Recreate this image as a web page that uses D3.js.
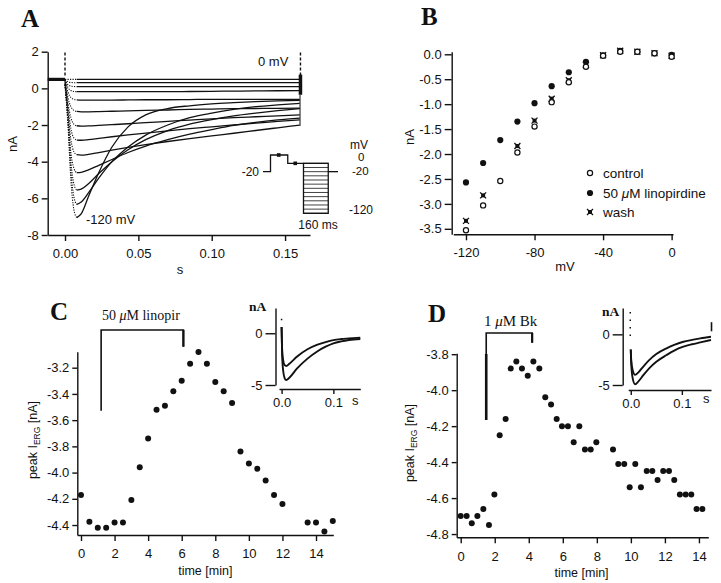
<!DOCTYPE html>
<html><head><meta charset="utf-8">
<script src="https://cdn.jsdelivr.net/npm/d3@7"></script>
<style>
body{margin:0;background:#fff}
svg{display:block;background:#fff}
</style></head><body>
<svg id="fig" width="721" height="583"></svg>
<script>
// ---------- Panel A data ----------
const aTimeTicks = [0, 0.05, 0.10, 0.15];
const aCurrentTicks = [2, 0, -2, -4, -6, -8];
const aHoldCurrent = 0.49;
const aTestVoltages = [0, -10, -20, -30, -40, -50, -60, -70, -80, -90, -100, -110, -120];
const aTraceTimes = [0,0.002,0.004,0.006,0.008,0.011,0.016,0.023,0.032,0.043,0.055,0.07,0.085,0.1,0.115,0.13,0.145,0.16];
const aTraces = [
  [0.49,0.49,0.49,0.49,0.49,0.49,0.49,0.49,0.49,0.49,0.49,0.49,0.49,0.49,0.49,0.49,0.49,0.49],
  [0.49,0.36,0.32,0.31,0.31,0.31,0.31,0.31,0.31,0.31,0.31,0.31,0.31,0.31,0.31,0.31,0.31,0.31],
  [0.49,0.2,0.12,0.1,0.09,0.09,0.09,0.09,0.09,0.09,0.09,0.09,0.09,0.09,0.09,0.09,0.09,0.09],
  [0.49,0.05,-0.12,-0.17,-0.18,-0.18,-0.18,-0.18,-0.18,-0.18,-0.18,-0.18,-0.17,-0.16,-0.15,-0.14,-0.13,-0.12],
  [0.45,-0.2,-0.5,-0.6,-0.63,-0.64,-0.64,-0.64,-0.64,-0.63,-0.62,-0.62,-0.61,-0.6,-0.6,-0.6,-0.6,-0.6],
  [0.4,-0.5,-1.0,-1.2,-1.26,-1.28,-1.28,-1.27,-1.25,-1.23,-1.2,-1.18,-1.15,-1.13,-1.11,-1.1,-1.09,-1.08],
  [0.35,-0.8,-1.6,-1.95,-2.04,-2.06,-2.05,-2.02,-1.98,-1.93,-1.87,-1.8,-1.73,-1.66,-1.6,-1.55,-1.5,-1.45],
  [0.3,-1.0,-2.2,-2.7,-2.82,-2.83,-2.8,-2.73,-2.64,-2.54,-2.44,-2.32,-2.2,-2.1,-2.0,-1.9,-1.8,-1.72],
  [0.25,-1.3,-2.8,-3.45,-3.62,-3.64,-3.6,-3.5,-3.37,-3.22,-3.07,-2.9,-2.74,-2.59,-2.45,-2.3,-2.15,-2.0],
  [0.2,-1.5,-3.5,-4.35,-4.6,-4.58,-4.45,-4.2,-3.88,-3.5,-3.15,-2.8,-2.5,-2.25,-2.02,-1.85,-1.72,-1.62],
  [0.2,-1.7,-4.0,-5.2,-5.55,-5.5,-5.2,-4.65,-4.0,-3.35,-2.8,-2.3,-1.95,-1.7,-1.5,-1.35,-1.22,-1.1],
  [0.2,-1.8,-4.5,-5.9,-6.33,-6.2,-5.7,-4.9,-4.0,-3.2,-2.55,-2.0,-1.6,-1.35,-1.15,-1.0,-0.9,-0.82],
  [0.2,-2.0,-5.0,-6.6,-7.05,-6.85,-5.9,-4.6,-3.2,-2.1,-1.45,-1.1,-0.95,-0.85,-0.78,-0.72,-0.68,-0.65]
];
// voltage protocol (inset of A)
const protoTimes = [0, 10, 33, 54];
const protoLevels = [-20, 20, 0, 0];
const protoStepStart = 54, protoStepEnd = 87, protoEnd = 100;
const protoMarks = [[21, 20], [43, 0]];

// ---------- Panel B data ----------
const bVoltages = [-120,-110,-100,-90,-80,-70,-60,-50,-40,-30,-20,-10,0];
const bControl  = [-3.53,-3.03,-2.54,-1.97,-1.45,-0.96,-0.56,-0.25,-0.03,0.05,0.05,0.02,-0.05];
const bLinop    = [-2.57,-2.18,-1.72,-1.35,-0.98,-0.64,-0.36,-0.15,-0.02,0.07,0.05,0.02,-0.01];
const bWash     = [-3.34,-2.83,null,-1.84,-1.33,-0.89,-0.52,-0.21,-0.02,0.07,0.05,0.02,-0.03];
const bXTicks = [-120, -80, -40, 0];
const bYTicks = [0, -0.5, -1, -1.5, -2, -2.5, -3, -3.5];
const bLegend = ["control", "50 \u03BCM linopirdine", "wash"];

// ---------- Panel C data ----------
const cTimes = [0,0.5,1,1.5,2,2.5,3,3.5,4,4.5,5,5.5,6,6.5,7,7.5,8,8.5,9,9.5,10,10.5,11,11.5,12,13.5,14,14.5,15];
const cPeak  = [-4.17,-4.375,-4.42,-4.42,-4.38,-4.38,-4.21,-3.96,-3.74,-3.52,-3.49,-3.38,-3.30,-3.17,-3.08,-3.17,-3.31,-3.38,-3.47,-3.84,-3.93,-3.97,-4.06,-4.17,-4.24,-4.38,-4.38,-4.45,-4.37];
const cDrug = [1.2, 6.1];
const cYTicks = [-3.2,-3.4,-3.6,-3.8,-4.0,-4.2,-4.4];
const cInsetTimes   = [0,0.001,0.003,0.006,0.009,0.015,0.03,0.05,0.068,0.085,0.1,0.115,0.13,0.152];
const cInsetLinop   = [0.6,-1.5,-2.6,-3.1,-3.16,-2.95,-2.25,-1.55,-1.13,-0.85,-0.66,-0.56,-0.5,-0.42];
const cInsetControl = [0.6,-2.0,-3.6,-4.35,-4.52,-4.3,-3.4,-2.45,-1.78,-1.3,-0.97,-0.78,-0.65,-0.55];

// ---------- Panel D data ----------
const dTimes = [0,0.35,0.65,0.98,1.33,1.66,1.98,2.29,2.64,2.94,3.27,3.6,3.94,4.27,4.62,4.97,5.31,5.64,5.95,6.3,6.64,6.97,7.3,7.64,7.97,8.95,9.26,9.61,9.93,10.26,10.59,10.93,11.26,11.57,11.9,12.24,12.55,12.88,13.22,13.55,13.86,14.2];
const dPeak  = [-4.70,-4.70,-4.74,-4.70,-4.66,-4.75,-4.58,-4.25,-4.16,-3.88,-3.84,-3.88,-3.92,-3.84,-3.88,-4.04,-4.08,-4.16,-4.20,-4.20,-4.29,-4.20,-4.33,-4.33,-4.29,-4.33,-4.41,-4.41,-4.54,-4.41,-4.54,-4.45,-4.45,-4.50,-4.45,-4.45,-4.50,-4.58,-4.58,-4.58,-4.66,-4.66];
const dDrug = [1.5, 4.2];
const dYTicks = [-3.8,-4.0,-4.2,-4.4,-4.6,-4.8];
const timeTicks = [0,2,4,6,8,10,12,14];
const dInsetTimes   = [0,0.001,0.004,0.0085,0.015,0.025,0.036,0.05,0.07,0.085,0.103,0.12,0.136,0.157];
const dInsetBk      = [-1.5,-2.6,-3.6,-4.0,-3.75,-3.15,-2.55,-1.95,-1.38,-1.05,-0.73,-0.55,-0.4,-0.23];
const dInsetControl = [-1.5,-3.0,-4.4,-4.93,-4.65,-4.0,-3.35,-2.7,-2.04,-1.6,-1.22,-0.98,-0.8,-0.56];
const insetTimeTicks = [0, 0.1];
const insetCurrentTicks = [0, -5];

// ---------- drawing ----------
const svg = d3.select("#fig");
const INK = "#111";
const SANS = "'Liberation Sans', Arial, sans-serif";
const SERIF = "'Liberation Serif', 'Times New Roman', serif";

function styleAxis(g, fs) {
  g.selectAll("path,line").attr("stroke", INK).attr("stroke-width", 1.4);
  g.selectAll("text").style("font-size", (fs || 13) + "px").style("fill", INK).style("font-family", SANS);
}
function addText(x, y, str, opts) {
  opts = opts || {};
  const t = svg.append("text").attr("x", x).attr("y", y)
    .style("font-size", (opts.size || 13) + "px")
    .style("font-family", opts.family || SANS)
    .style("font-weight", opts.weight || "normal")
    .attr("text-anchor", opts.anchor || "start")
    .style("fill", INK).text(str);
  if (opts.rotate) t.attr("transform", `rotate(-90,${x},${y})`);
  return t;
}
const fmt = n => d => d.toFixed(n);

// ===== Panel A =====
const xA = d3.scaleLinear().domain([-0.0118, 0.167]).range([47.7, 310]);
const yA = d3.scaleLinear().domain([-8, 2]).range([235, 51.7]);
svg.append("g").attr("transform", "translate(0,235)")
  .call(d3.axisBottom(xA).tickValues(aTimeTicks).tickFormat(fmt(2)).tickSize(6).tickSizeOuter(0).tickPadding(8))
  .call(g => styleAxis(g));
svg.append("g").attr("transform", "translate(47.7,0)")
  .call(d3.axisLeft(yA).tickValues(aCurrentTicks).tickFormat(d => String(d)).tickSize(6).tickSizeOuter(0).tickPadding(3))
  .call(g => styleAxis(g));

// holding segment
svg.append("line").attr("x1", xA(-0.0118)).attr("x2", xA(0)).attr("y1", yA(aHoldCurrent)).attr("y2", yA(aHoldCurrent))
  .attr("stroke", INK).attr("stroke-width", 3.2);
// capacitive artefacts
svg.append("line").attr("x1", xA(0)).attr("x2", xA(0)).attr("y1", yA(1.95)).attr("y2", yA(0.6))
  .attr("stroke", INK).attr("stroke-width", 1.4).attr("stroke-dasharray", "3,2");
svg.append("line").attr("x1", xA(0.1605)).attr("x2", xA(0.1605)).attr("y1", yA(1.95)).attr("y2", yA(0.7))
  .attr("stroke", INK).attr("stroke-width", 1.4).attr("stroke-dasharray", "3,2");
svg.append("line").attr("x1", xA(0.1605)).attr("x2", xA(0.1605)).attr("y1", yA(0.75)).attr("y2", yA(-0.35))
  .attr("stroke", INK).attr("stroke-width", 3.5);
svg.append("line").attr("x1", xA(0.1602)).attr("x2", xA(0.1602)).attr("y1", yA(-0.35)).attr("y2", yA(-2.05))
  .attr("stroke", INK).attr("stroke-width", 1);

const lineA = d3.line().x(d => xA(d[0])).y(d => yA(d[1])).curve(d3.curveMonotoneX);
aTraces.forEach(tr => {
  const pts = aTraceTimes.map((t, i) => [t, tr[i]]);
  svg.append("path").attr("d", lineA(pts.slice(0, 5))).attr("fill", "none")
    .attr("stroke", INK).attr("stroke-width", 1.1).attr("stroke-dasharray", "1.2,1.3");
  svg.append("path").attr("d", lineA(pts.slice(4))).attr("fill", "none")
    .attr("stroke", INK).attr("stroke-width", 1.3);
});
addText(258, 66, "0 mV");
addText(86, 224, "-120 mV");
addText(180, 274, "s", {anchor: "middle"});
addText(17, 144, "nA", {anchor: "middle", rotate: true});
addText(21, 27, "A", {size: 25, family: SERIF, weight: "bold"});

// protocol inset
const xP = d3.scaleLinear().domain([0, 100]).range([263, 338]);
const yP = d3.scaleLinear().domain([-120, 20]).range([213.3, 155]);
const protoPts = protoTimes.map((t, i) => [t, protoLevels[i]]);
svg.append("path").attr("d", d3.line().x(d => xP(d[0])).y(d => yP(d[1])).curve(d3.curveStepAfter)(protoPts))
  .attr("fill", "none").attr("stroke", INK).attr("stroke-width", 1.3);
svg.append("rect").attr("x", xP(protoStepStart)).attr("y", yP(0))
  .attr("width", xP(protoStepEnd) - xP(protoStepStart)).attr("height", yP(-120) - yP(0))
  .attr("fill", "none").attr("stroke", INK).attr("stroke-width", 1.3);
aTestVoltages.forEach(v => {
  svg.append("line").attr("x1", xP(protoStepStart)).attr("x2", xP(protoStepEnd))
    .attr("y1", yP(v)).attr("y2", yP(v)).attr("stroke", INK).attr("stroke-width", 0.8);
});
svg.append("line").attr("x1", xP(protoStepEnd)).attr("x2", xP(protoEnd))
  .attr("y1", yP(-20)).attr("y2", yP(-20)).attr("stroke", INK).attr("stroke-width", 1.3);
protoMarks.forEach(m => {
  svg.append("rect").attr("x", xP(m[0]) - 1.8).attr("y", yP(m[1]) - 1.8).attr("width", 3.6).attr("height", 3.6).attr("fill", INK);
});
addText(259, 176, "-20", {anchor: "end", size: 12});
addText(350, 149, "mV", {size: 12});
addText(358, 161, "0", {size: 11.5});
addText(352, 175, "-20", {size: 11.5});
addText(349, 214, "-120", {size: 12});
addText(318, 229, "160 ms", {anchor: "middle", size: 12});

// ===== Panel B =====
const xB = d3.scaleLinear().domain([-127.4, 0.8]).range([453.3, 673]);
const yB = d3.scaleLinear().domain([-3.61, 0.052]).range([234.3, 51.7]);
svg.append("g").attr("transform", "translate(0,234.3)")
  .call(d3.axisBottom(xB).tickValues(bXTicks).tickFormat(d => String(d)).tickSize(6).tickSizeOuter(0).tickPadding(7))
  .call(g => styleAxis(g));
svg.append("g").attr("transform", "translate(451.7,0)")
  .call(d3.axisLeft(yB).tickValues(bYTicks).tickFormat(fmt(1)).tickSize(7).tickSizeOuter(0).tickPadding(3))
  .call(g => styleAxis(g));

function washMark(g, x, y) {
  const s = 3;
  g.append("rect").attr("x", x - 2).attr("y", y - 2).attr("width", 4).attr("height", 4).attr("fill", INK);
  g.append("path").attr("d", `M${x - s},${y - s}L${x + s},${y + s}M${x - s},${y + s}L${x + s},${y - s}`)
    .attr("stroke", INK).attr("stroke-width", 1.3);
}
const gB = svg.append("g");
bVoltages.forEach((v, i) => { if (bWash[i] !== null) washMark(gB, xB(v), yB(bWash[i])); });
bVoltages.forEach((v, i) => {
  gB.append("circle").attr("cx", xB(v)).attr("cy", yB(bLinop[i])).attr("r", 3.1).attr("fill", INK);
});
bVoltages.forEach((v, i) => {
  gB.append("circle").attr("cx", xB(v)).attr("cy", yB(bControl[i])).attr("r", 2.6)
    .attr("fill", "#fff").attr("stroke", INK).attr("stroke-width", 1.2);
});
// legend
const legY = [173, 193, 212];
gB.append("circle").attr("cx", 590).attr("cy", legY[0]).attr("r", 2.6).attr("fill", "#fff").attr("stroke", INK).attr("stroke-width", 1.2);
gB.append("circle").attr("cx", 590).attr("cy", legY[1]).attr("r", 3.1).attr("fill", INK);
washMark(gB, 590, legY[2]);
addText(603, legY[0] + 5, bLegend[0], {size: 13.5});
const lt = addText(603, legY[1] + 5, "", {size: 13.5});
lt.append("tspan").text("50 ");
lt.append("tspan").style("font-style", "italic").text("\u03BC");
lt.append("tspan").text("M linopirdine");
addText(603, legY[2] + 5, bLegend[2], {size: 13.5});
addText(565, 271, "mV", {anchor: "middle"});
addText(414, 137, "nA", {anchor: "middle", rotate: true});
addText(421, 25, "B", {size: 25, family: SERIF, weight: "bold"});

// ===== time-course panels =====
function timeCourse(o) {
  const x = d3.scaleLinear().domain(o.xDomain).range(o.xRange);
  const y = d3.scaleLinear().domain(o.yDomain).range(o.yRange);
  svg.append("g").attr("transform", `translate(0,${o.yRange[0]})`)
    .call(d3.axisBottom(x).tickValues(timeTicks).tickFormat(d => String(d)).tickSize(6).tickSizeOuter(0).tickPadding(8))
    .call(g => styleAxis(g));
  svg.append("g").attr("transform", `translate(${o.xRange[0]},0)`)
    .call(d3.axisLeft(y).tickValues(o.yTicks).tickFormat(fmt(1)).tickSize(5).tickSizeOuter(0).tickPadding(3))
    .call(g => styleAxis(g));
  o.times.forEach((t, i) => {
    svg.append("circle").attr("cx", x(t)).attr("cy", y(o.values[i])).attr("r", 3).attr("fill", INK);
  });
  // drug bracket
  const bx1 = x(o.drug[0]), bx2 = x(o.drug[1]);
  svg.append("path").attr("d", `M${bx1},${o.bracketLeftBottom}V${o.bracketTop}H${bx2}V${o.bracketRightBottom}`)
    .attr("fill", "none").attr("stroke", INK).attr("stroke-width", 1.6);
  if (o.thickFrom) {
    svg.append("line").attr("x1", bx1).attr("x2", bx1).attr("y1", o.thickFrom).attr("y2", o.bracketLeftBottom)
      .attr("stroke", INK).attr("stroke-width", 2.6);
  }
  svg.append("line").attr("x1", bx2).attr("x2", bx2).attr("y1", o.bracketTop).attr("y2", o.bracketRightBottom)
    .attr("stroke", INK).attr("stroke-width", 2.2);
  const dt = addText(o.labelX, o.labelY, "", {size: o.labelSize, family: SERIF});
  o.label.forEach(p => { const s = dt.append("tspan").text(p[0]); if (p[1]) s.style("font-style", "italic"); });
  addText((o.xRange[0] + o.xRange[1]) / 2 + o.xTitleShift, o.xTitleY, "time [min]", {anchor: "middle", size: 12.5});
  const yl = addText(o.yTitleX, o.yTitleY, "", {anchor: "middle", size: 12.5, rotate: true});
  yl.append("tspan").text("peak I");
  yl.append("tspan").style("font-size", "8.5px").attr("dy", 3).text("ERG");
  yl.append("tspan").attr("dy", -3).text(" [nA]");
  addText(o.letterX, o.letterY, o.letter, {size: 25, family: SERIF, weight: "bold"});
}

function inset(o) {
  const x = d3.scaleLinear().domain(o.xDomain).range(o.xRange);
  const y = d3.scaleLinear().domain(o.yDomain).range(o.yRange);
  svg.append("g").attr("transform", `translate(0,${o.xAxisY})`)
    .call(d3.axisBottom(x).tickValues(insetTimeTicks).tickFormat(fmt(1)).tickSize(5).tickSizeOuter(0).tickPadding(4))
    .call(g => styleAxis(g));
  svg.append("g").attr("transform", `translate(${o.yAxisX},0)`)
    .call(d3.axisLeft(y).tickValues(insetCurrentTicks).tickFormat(d => String(d)).tickSize(10).tickSizeOuter(0).tickPadding(3))
    .call(g => styleAxis(g));
  const ln = d3.line().x(d => x(d[0])).y(d => y(d[1])).curve(d3.curveMonotoneX);
  o.series.forEach(s => {
    svg.append("path").attr("d", ln(o.times.map((t, i) => [t, s[i]]))).attr("fill", "none")
      .attr("stroke", INK).attr("stroke-width", 1.9);
  });
  if (o.dots) {
    svg.append("line").attr("x1", x(o.dots[0])).attr("x2", x(o.dots[0])).attr("y1", y(o.dots[1])).attr("y2", y(o.dots[2]))
      .attr("stroke", INK).attr("stroke-width", 1.5).attr("stroke-dasharray", "1.5,6");
  }
  if (o.endSpike) {
    svg.append("line").attr("x1", x(o.endSpike[0])).attr("x2", x(o.endSpike[0])).attr("y1", y(o.endSpike[1])).attr("y2", y(o.endSpike[2]))
      .attr("stroke", INK).attr("stroke-width", 1.6);
  }
  addText(o.sX, o.tickY, "s", {size: 13});
  addText(o.nAX, o.nAY, "nA", {size: 13.5, family: SERIF, weight: "bold"});
}

timeCourse({
  xDomain: [-0.22, 15.03], xRange: [77.3, 333.3],
  yDomain: [-4.476, -3.078], yRange: [535, 351.7],
  yTicks: cYTicks, times: cTimes, values: cPeak, drug: cDrug,
  bracketTop: 330, bracketLeftBottom: 410.7, bracketRightBottom: 346.7,
  label: [["50 "], ["\u03BC", true], ["M linopir"]], labelX: 102, labelY: 320, labelSize: 14,
  xTitleShift: 0, xTitleY: 575, yTitleX: 37, yTitleY: 440,
  letter: "C", letterX: 50, letterY: 320
});
inset({
  xDomain: [-0.005, 0.152], xRange: [279, 360.3], yDomain: [-5, 2.44], yRange: [385, 308],
  xAxisY: 389, yAxisX: 275.5, times: cInsetTimes, series: [cInsetLinop, cInsetControl],
  dots: [0.0, 1.4, 1.2], sX: 352, tickY: 405, nAX: 249, nAY: 311
});

timeCourse({
  xDomain: [-0.235, 14.55], xRange: [456.7, 708.3],
  yDomain: [-4.818, -3.795], yRange: [537.3, 353.3],
  yTicks: dYTicks, times: dTimes, values: dPeak, drug: dDrug,
  bracketTop: 333, bracketLeftBottom: 420, bracketRightBottom: 342.7, thickFrom: 354,
  label: [["1 "], ["\u03BC", true], ["M Bk"]], labelX: 484, labelY: 326, labelSize: 15,
  xTitleShift: -1, xTitleY: 577, yTitleX: 414, yTitleY: 443,
  letter: "D", letterX: 428, letterY: 322
});
inset({
  xDomain: [-0.005, 0.157], xRange: [628.2, 711], yDomain: [-5, 2.6], yRange: [385, 308],
  xAxisY: 390, yAxisX: 622.7, times: dInsetTimes, series: [dInsetBk, dInsetControl],
  dots: [-0.001, 2.2, -0.6], endSpike: [0.158, 1.2, 0.3], sX: 703, tickY: 403, nAX: 602, nAY: 316
});
</script>
</body></html>
